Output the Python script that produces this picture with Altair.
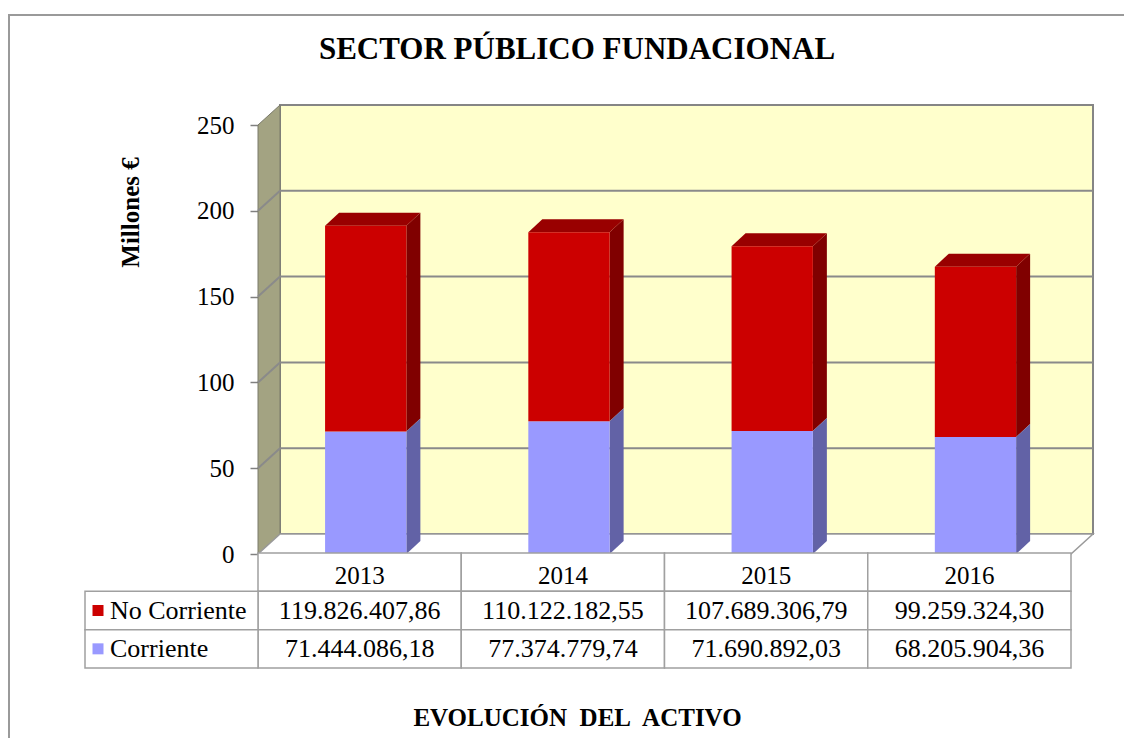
import altair as alt
import pandas as pd

# ---------------- data ----------------
YEARS = ["2013", "2014", "2015", "2016"]
NO_CORRIENTE = [119826407.86, 110122182.55, 107689306.79, 99259324.30]
CORRIENTE = [71444086.18, 77374779.74, 71690892.03, 68205904.36]
SERIES = ["No Corriente", "Corriente"]
Y_TICKS = [0, 50, 100, 150, 200, 250]
TITLE = "SECTOR PÚBLICO FUNDACIONAL"
Y_TITLE = "Millones €"
X_TITLE = "EVOLUCIÓN\u00a0 DEL\u00a0 ACTIVO"

# ---------------- style / layout ----------------
FONT = "Times New Roman, Liberation Serif, DejaVu Serif, serif"
FRONT = {"No Corriente": "#cc0000", "Corriente": "#9999ff"}
SIDE = {"No Corriente": "#800000", "Corriente": "#6262a6"}
TOP = "#990000"
WALL_BACK = "#ffffcc"
WALL_LEFT = "#a3a382"
GRID = "#8a8a8a"
TABLE_LINE = "#a0a0a0"

W, H = 813, 429
YMAX = 250
PX_X = W / len(YEARS)
PX_Y = H / YMAX
WALL_DX = 22 / PX_X
WALL_DY = 20 / PX_Y
BAR_DX = 14 / PX_X
BAR_DY = 13 / PX_Y
BAR_C = 0.53
BAR_HW = 0.2
LABEL_X0 = -173 / PX_X
N = len(YEARS)


def es(v):
    s = f"{v:,.2f}"
    return s.replace(",", "X").replace(".", ",").replace("X", ".")


XS = alt.Scale(domain=[0, N], nice=False, zero=False)
YS = alt.Scale(domain=[0, YMAX], nice=False, zero=False)
CS = alt.Scale(domain=SERIES, range=[FRONT[s] for s in SERIES])
X_AX = alt.Axis(labels=False, ticks=False, domain=False, grid=False,
                title=X_TITLE, titleFont=FONT, titleFontSize=25,
                titleFontWeight="bold", titleColor="black",
                titleX=319, titleY=163, titleBaseline="middle")
Y_AX = alt.Axis(values=Y_TICKS, domain=False, grid=False, tickSize=8,
                tickColor="#808080", tickWidth=1.5, labelFont=FONT,
                labelFontSize=25, labelColor="black", labelPadding=16,
                title=Y_TITLE, titleFont=FONT, titleFontSize=25,
                titleFontWeight="bold", titleColor="black",
                titleX=-128, titleY=87, titleBaseline="middle",
                titleAlign="center")


def X(f):
    return alt.X(f, scale=XS, axis=X_AX, stack=None)


def Y(f):
    return alt.Y(f, scale=YS, axis=Y_AX, stack=None)


# ---------------- derived geometry ----------------
segs = []
for i, yr in enumerate(YEARS):
    c = CORRIENTE[i] / 1e6
    n = NO_CORRIENTE[i] / 1e6
    segs.append(dict(year=yr, series="Corriente", i=i, y0=0.0, y1=c))
    segs.append(dict(year=yr, series="No Corriente", i=i, y0=c, y1=c + n))

fronts = pd.DataFrame([dict(year=s["year"], series=s["series"],
                            x0=s["i"] + BAR_C - BAR_HW,
                            x1=s["i"] + BAR_C + BAR_HW,
                            y0=s["y0"], y1=s["y1"]) for s in segs])

side_rows = []
for s in segs:
    r = s["i"] + BAR_C + BAR_HW
    key = s["year"] + s["series"]
    side_rows.append(dict(key=key, series=s["series"], x=r, lo=s["y0"], hi=s["y1"]))
    side_rows.append(dict(key=key, series=s["series"], x=r + BAR_DX,
                          lo=s["y0"] + BAR_DY, hi=s["y1"] + BAR_DY))
sides = pd.DataFrame(side_rows)

top_rows = []
for s in segs:
    if s["series"] != "No Corriente":
        continue
    l = s["i"] + BAR_C - BAR_HW
    r = s["i"] + BAR_C + BAR_HW
    top_rows.append(dict(key=s["year"], y=s["y1"], xl=l, xr=r))
    top_rows.append(dict(key=s["year"], y=s["y1"] + BAR_DY, xl=l + BAR_DX, xr=r + BAR_DX))
tops = pd.DataFrame(top_rows)

back = pd.DataFrame([dict(x0=WALL_DX, x1=N + WALL_DX, y0=WALL_DY, y1=YMAX + WALL_DY)])
left = pd.DataFrame([dict(x=0.0, lo=0.0, hi=float(YMAX)),
                     dict(x=WALL_DX, lo=WALL_DY, hi=YMAX + WALL_DY)])
floor = pd.DataFrame([dict(y=0.0, xl=0.0, xr=float(N)),
                      dict(y=WALL_DY, xl=WALL_DX, xr=N + WALL_DX)])
grid_rows = []
for t in Y_TICKS[1:-1]:
    grid_rows += [dict(t=t, x=0.0, y=float(t)),
                  dict(t=t, x=WALL_DX, y=t + WALL_DY),
                  dict(t=t, x=N + WALL_DX, y=t + WALL_DY)]
grid = pd.DataFrame(grid_rows)

# ---------------- 3D plot layers ----------------
back_l = alt.Chart(back).mark_rect(fill=WALL_BACK, stroke="#858585", strokeWidth=2).encode(
    x=X("x0:Q"), x2="x1:Q", y=Y("y0:Q"), y2="y1:Q")
left_l = alt.Chart(left).mark_area(color=WALL_LEFT, stroke="#7a7a6a", strokeWidth=1, orient="vertical").encode(
    x=X("x:Q"), y=Y("lo:Q"), y2="hi:Q")
floor_l = alt.Chart(floor).mark_area(color="white", stroke="#9a9a9a", strokeWidth=1.5, orient="horizontal").encode(
    y=Y("y:Q"), x=X("xl:Q"), x2="xr:Q")
grid_l = alt.Chart(grid).mark_line(color=GRID, strokeWidth=2).encode(
    x=X("x:Q"), y=Y("y:Q"), detail="t:N")

side_layers = [
    alt.Chart(sides[sides.series == s]).mark_area(color=SIDE[s], orient="vertical").encode(
        x=X("x:Q"), y=Y("lo:Q"), y2="hi:Q", detail="key:N")
    for s in SERIES
]
top_l = alt.Chart(tops).mark_area(color=TOP, orient="horizontal").encode(
    y=Y("y:Q"), x=X("xl:Q"), x2="xr:Q", detail="key:N")
front_l = alt.Chart(fronts).mark_rect().encode(
    x=X("x0:Q"), x2="x1:Q", y=Y("y0:Q"), y2="y1:Q",
    color=alt.Color("series:N", scale=CS, legend=None))

title_l = alt.Chart(pd.DataFrame({"t": [TITLE]})).mark_text(
    font=FONT, fontSize=31, fontWeight="bold", color="black", baseline="middle").encode(
    x=alt.value(319), y=alt.value(-75), text="t:N")

frame_top = alt.Chart(pd.DataFrame({"a": [0]})).mark_rule(color="#9a9a9a", strokeWidth=2).encode(
    x=alt.value(-250), x2=alt.value(874), y=alt.value(-110))
frame_left = alt.Chart(pd.DataFrame({"a": [0]})).mark_rule(color="#9a9a9a", strokeWidth=2).encode(
    x=alt.value(-249), y=alt.value(-110), y2=alt.value(613))

main = alt.layer(back_l, left_l, floor_l, grid_l, *side_layers, top_l, front_l,
                 title_l, frame_top, frame_left)

# ---------------- data table ----------------
ROWS = ["hdr"] + SERIES
TYS = alt.Scale(domain=ROWS, range=[428, 543], paddingInner=0, paddingOuter=0)

cell_rows = []
for i in range(N):
    for r in ROWS:
        cell_rows.append(dict(row=r, x0=float(i), x1=float(i + 1)))
for r in SERIES:
    cell_rows.append(dict(row=r, x0=LABEL_X0, x1=0.0))
cells = pd.DataFrame(cell_rows)

hdr_rows, val_rows = [], []
for i, yr in enumerate(YEARS):
    hdr_rows.append(dict(row="hdr", xc=i + 0.5, label=yr))
    val_rows.append(dict(row="No Corriente", xc=i + 0.5, label=es(NO_CORRIENTE[i])))
    val_rows.append(dict(row="Corriente", xc=i + 0.5, label=es(CORRIENTE[i])))
hdrs = pd.DataFrame(hdr_rows)
vals = pd.DataFrame(val_rows)
leg = pd.DataFrame({"row": SERIES, "series": SERIES})

TY = alt.Y("row:N", scale=TYS, axis=None)
cells_l = alt.Chart(cells).mark_rect(fill="white", stroke=TABLE_LINE, strokeWidth=1.5).encode(
    x=X("x0:Q"), x2="x1:Q", y=TY)
hdr_l = alt.Chart(hdrs).mark_text(font=FONT, fontSize=25, color="black", baseline="middle", dy=4).encode(
    x=X("xc:Q"), y=TY, text="label:N")
val_l = alt.Chart(vals).mark_text(font=FONT, fontSize=26, color="black", baseline="middle").encode(
    x=X("xc:Q"), y=TY, text="label:N")
sq_l = alt.Chart(leg).mark_point(shape="square", filled=True, size=121, opacity=1).encode(
    x=alt.value(-160), y=TY, color=alt.Color("series:N", scale=CS, legend=None))
lab_l = alt.Chart(leg).mark_text(font=FONT, fontSize=26, color="black", align="left", baseline="middle").encode(
    x=alt.value(-148), y=TY, text="series:N")

table = alt.layer(cells_l, hdr_l, val_l, sq_l, lab_l)

chart = alt.layer(main, table).resolve_scale(y="independent").properties(
    width=W, height=H,
    padding={"left": 250, "top": 117, "right": 53, "bottom": 192},
    autosize="none",
    background="white",
).configure_view(stroke=None)

chart.save("out.html", embed_options={"renderer": "svg", "actions": False})
